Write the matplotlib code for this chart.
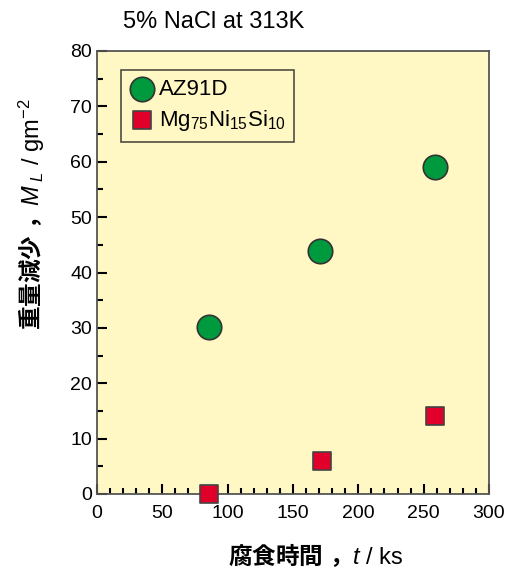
import matplotlib
matplotlib.use('Agg')
import matplotlib.pyplot as plt
from matplotlib.ticker import MultipleLocator

plt.rcParams['font.family'] = ['Liberation Sans', 'Noto Sans CJK JP', 'DejaVu Sans']
plt.rcParams['mathtext.fontset'] = 'custom'
plt.rcParams['mathtext.rm'] = 'Liberation Sans'
plt.rcParams['mathtext.it'] = 'Liberation Sans:italic'
plt.rcParams['mathtext.bf'] = 'Noto Sans CJK JP:bold'

# data (time in ks, mass loss in g/m^2)
az_t = [86, 171, 259]
az_ml = [30.2, 43.9, 59.1]
mg_t = [86, 172, 259]
mg_ml = [0.0, 6.0, 14.1]

fig = plt.figure(figsize=(5.2, 5.69), dpi=100)
ax = fig.add_axes([97/520, 1 - 494/569, 392/520, 443/569])
ax.set_facecolor('#FFF8C4')

ax.scatter(az_t, az_ml, s=310, marker='o', color='#009A3E', edgecolor='#333333',
           linewidth=1.2, label='AZ91D', zorder=3, clip_on=False)
ax.scatter(mg_t, mg_ml, s=165, marker='s', color='#E0002A', edgecolor='#444444',
           linewidth=1.2, label=r'Mg$_{75}$Ni$_{15}$Si$_{10}$', zorder=3, clip_on=False)

ax.set_xlim(0, 300)
ax.set_ylim(0, 80)
ax.xaxis.set_major_locator(MultipleLocator(50))
ax.xaxis.set_minor_locator(MultipleLocator(10))
ax.yaxis.set_major_locator(MultipleLocator(10))
ax.yaxis.set_minor_locator(MultipleLocator(5))
ax.tick_params(which='both', direction='in', top=False, right=False, labelsize=14,
               width=1.5, colors='black')
ax.tick_params(which='major', length=7)
ax.tick_params(which='minor', length=4)
ax.tick_params(axis='x', pad=8)
for s in ax.spines.values():
    s.set_color('#555555')
    s.set_linewidth(1.3)

fig.text(316/520, 1 - 555/569, r'$\mathbf{腐食時間}\ \mathbf{，}\mathit{t}$ / ks',
         fontsize=17, ha='center', va='center')
fig.text(32/520, 1 - 214/569, r'$\mathbf{重量減少}\ \mathbf{，}\mathit{M}_{\ L}$ / gm$^{-2}$',
         fontsize=17, ha='center', va='center', rotation=90)

fig.text(123/520, 1 - 22/569, '5% NaCl at 313K', fontsize=17, va='center', ha='left')

leg = ax.legend(loc='upper left', bbox_to_anchor=(0.061, 0.957), borderaxespad=0,
                fontsize=16, frameon=True, fancybox=False, edgecolor='#222222',
                facecolor='#FFF8C4', handletextpad=0.2, borderpad=0.4,
                labelspacing=0.35, handlelength=1.1)
leg.get_frame().set_linewidth(1.2)

fig.savefig('out.png', dpi=100)
